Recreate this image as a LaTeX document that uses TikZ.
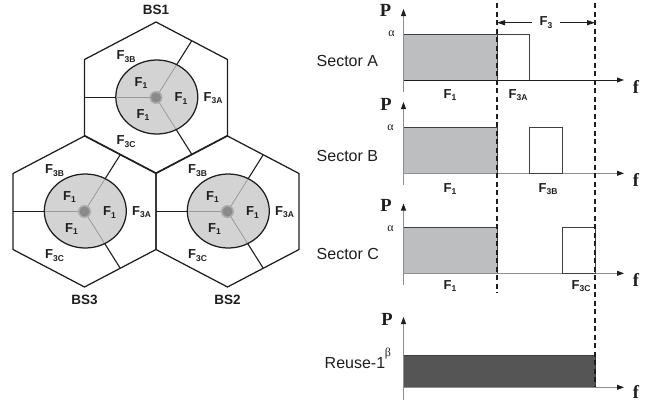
\documentclass[tikz,border=0pt]{standalone}
\usepackage{fontspec}
\setmainfont{Liberation Sans}
\newfontfamily\serifface{Liberation Serif}
\usetikzlibrary{arrows.meta}

\definecolor{cellgray}{HTML}{D3D3D3}
\definecolor{bandgray}{HTML}{BDBEC0}
\definecolor{reusedark}{HTML}{555555}
\definecolor{axisgray}{HTML}{8E8E8E}
\definecolor{splitgray}{HTML}{9A9A9A}
\definecolor{dotring}{HTML}{ABABAB}
\definecolor{dotcore}{HTML}{8A8A8A}
\definecolor{ink}{HTML}{1E1E1E}

% F with a small bold subscript
\newcommand{\Fq}[1]{F\raisebox{-2.6pt}{\fontsize{8.5}{9}\selectfont #1}}

\begin{document}
\begin{tikzpicture}[x=1pt,y=-1pt,
  hexline/.style={line width=1.25pt, draw=ink, line join=miter},
  splitline/.style={line width=1.1pt, draw=ink},
  innersplit/.style={line width=0.8pt, draw=splitgray},
  flabel/.style={inner sep=0pt, font=\bfseries\fontsize{13}{14}\selectfont, text=ink},
  bslabel/.style={inner sep=0pt, font=\bfseries\fontsize{13.5}{14}\selectfont, text=ink},
  rowlabel/.style={inner sep=0pt, anchor=west, font=\fontsize{16}{18}\selectfont, text=ink},
  plabel/.style={inner sep=0pt, anchor=base, font=\serifface\bfseries\fontsize{18.5}{20}\selectfont, text=ink},
  greek/.style={inner sep=0pt, font=\serifface\fontsize{12}{13}\selectfont, text=ink},
  yaxis/.style={line width=0.8pt, draw=axisgray, -{Triangle[length=7pt,width=5pt,color=ink]}},
  xaxis/.style={line width=0.9pt, draw=axisgray, -{Triangle[length=7pt,width=5pt,color=ink]}},
  bandbox/.style={line width=0.9pt, draw=ink!85},
  guide/.style={line width=1.1pt, draw=ink, dash pattern=on 5pt off 3.5pt},
  spanarrow/.style={line width=1pt, draw=ink, {Triangle[length=8pt,width=5pt]}-{Triangle[length=8pt,width=5pt]}}
]
\useasboundingbox (0,0) rectangle (664,407);

% ---------------- three sectorised cells ----------------
\foreach \cx/\cy/\nm/\ly in {156/97.5/BS1/-87.5, 84.5/211.5/BS3/88.5, 227.5/211.5/BS2/88.5} {
  \begin{scope}[shift={(\cx,\cy)}]
    \coordinate (\nm-c) at (0,0);
    \coordinate (\nm-ml) at (-71.5,0);
    \coordinate (\nm-mu) at (35.75,-56.75);
    \coordinate (\nm-md) at (35.75,56.75);
    \draw[hexline] (0,-75.5) -- (71.5,-38) -- (71.5,38) -- (0,75.5)
                   -- (-71.5,38) -- (-71.5,-38) -- cycle;
    \draw[splitline] (\nm-c) -- (\nm-ml);
    \draw[splitline] (\nm-c) -- (\nm-mu);
    \draw[splitline] (\nm-c) -- (\nm-md);
    \draw[line width=1.25pt, draw=ink, fill=cellgray] (0.8,-0.5) ellipse [x radius=41pt, y radius=37pt];
    \begin{scope}
      \clip (0.8,-0.5) ellipse [x radius=40pt, y radius=36pt];
      \draw[innersplit] (\nm-c) -- (\nm-ml);
      \draw[innersplit] (\nm-c) -- (\nm-mu);
      \draw[innersplit] (\nm-c) -- (\nm-md);
    \end{scope}
    \fill[dotring] (0,0) circle [radius=6.5pt];
    \fill[dotcore] (0,0) circle [radius=5pt];
    \node[flabel] (\nm-3b) at (-30,-41) {\Fq{3B}};
    \node[flabel] (\nm-1a) at (-15,-14.5) {\Fq{1}};
    \node[flabel] (\nm-1b) at (25,1) {\Fq{1}};
    \node[flabel] (\nm-1c) at (-13,17.5) {\Fq{1}};
    \node[flabel] (\nm-3a) at (57,0.5) {\Fq{3A}};
    \node[flabel] (\nm-3c) at (-30,44) {\Fq{3C}};
    \node[bslabel] (\nm) at (0,\ly) {\nm};
  \end{scope}
}

% ---------------- spectrum charts ----------------
% Sector A
\fill[bandgray] (403.5,34) rectangle (497,80);
\draw[bandbox] (403.5,34) rectangle (497,80);
\draw[bandbox, fill=white] (497,34) rectangle (529.7,80);
\coordinate (a-o) at (403.5,80);
\coordinate (a-top) at (403.5,9);
\coordinate (a-bot) at (403.5,92);
\coordinate (a-end) at (624,80);
\draw[xaxis, draw=ink] (a-o) -- (a-end);
\draw[yaxis] (a-bot) -- (a-top);
\node[plabel] (pa) at (385.5,16.5) {P};
\node[plabel] (fa) at (636,93) {f};
\node[greek] (alphaa) at (391.5,33.5) {α};
\node[rowlabel] (seca) at (316.5,61) {Sector A};
\node[flabel] (a-f1) at (450,95) {\Fq{1}};
\node[flabel] (a-f3) at (518,95) {\Fq{3A}};

% Sector B
\fill[bandgray] (403.5,127.7) rectangle (497,173.3);
\draw[bandbox] (403.5,127.7) rectangle (497,173.3);
\coordinate (b-o) at (403.5,173.3);
\coordinate (b-top) at (403.5,102);
\coordinate (b-bot) at (403.5,185);
\coordinate (b-end) at (624,173.3);
\draw[xaxis] (b-o) -- (b-end);
\draw[bandbox, fill=white] (529.7,127.7) rectangle (562.3,173.3);
\draw[yaxis] (b-bot) -- (b-top);
\node[plabel] (pb) at (386,110) {P};
\node[plabel] (fb) at (636,186.5) {f};
\node[greek] (alphab) at (390.5,127.5) {α};
\node[rowlabel] (secb) at (316.5,156) {Sector B};
\node[flabel] (b-f1) at (450,189) {\Fq{1}};
\node[flabel] (b-f3) at (548,189) {\Fq{3B}};

% Sector C
\fill[bandgray] (403.5,227.3) rectangle (497,273.3);
\draw[bandbox] (403.5,227.3) rectangle (497,273.3);
\coordinate (c-o) at (403.5,273.3);
\coordinate (c-top) at (403.5,203.5);
\coordinate (c-bot) at (403.5,285);
\coordinate (c-end) at (624,273.3);
\draw[xaxis] (c-o) -- (c-end);
\draw[bandbox, fill=white] (562.3,227.3) rectangle (595,273.3);
\draw[yaxis] (c-bot) -- (c-top);
\node[plabel] (pc) at (386,211.5) {P};
\node[plabel] (fc) at (636,286.5) {f};
\node[greek] (alphac) at (390.5,229) {α};
\node[rowlabel] (secc) at (316.5,254) {Sector C};
\node[flabel] (c-f1) at (450,286) {\Fq{1}};
\node[flabel] (c-f3) at (581,286) {\Fq{3C}};

% Reuse-1
\fill[reusedark] (403.5,355) rectangle (595,387.3);
\draw[bandbox] (403.5,355) rectangle (595,387.3);
\coordinate (r-o) at (403.5,387.3);
\coordinate (r-top) at (403.5,317);
\coordinate (r-bot) at (403.5,400);
\coordinate (r-end) at (624,387.3);
\draw[xaxis] (r-o) -- (r-end);
\draw[yaxis] (r-bot) -- (r-top);
\node[plabel] (pr) at (387,325) {P};
\node[plabel] (fr) at (636,398.5) {f};
\node[greek] (betar) at (388,353.5) {β};
\node[rowlabel] (reuse) at (324.5,363) {Reuse-1};

% frequency boundaries and the F3 span
\coordinate (g1-top) at (497,3);
\coordinate (g1-bot) at (497,293);
\coordinate (g2-top) at (595,3);
\coordinate (g2-bot) at (595,387.3);
\draw[guide] (g1-top) -- (g1-bot);
\draw[guide] (g2-top) -- (g2-bot);
\coordinate (f3-l) at (497,22.7);
\coordinate (f3-r) at (595,22.7);
\draw[spanarrow] (f3-l) -- node[flabel, fill=white, inner xsep=8pt, inner ysep=2pt] (f3) {\Fq{3}} (f3-r);
\end{tikzpicture}
\end{document}
